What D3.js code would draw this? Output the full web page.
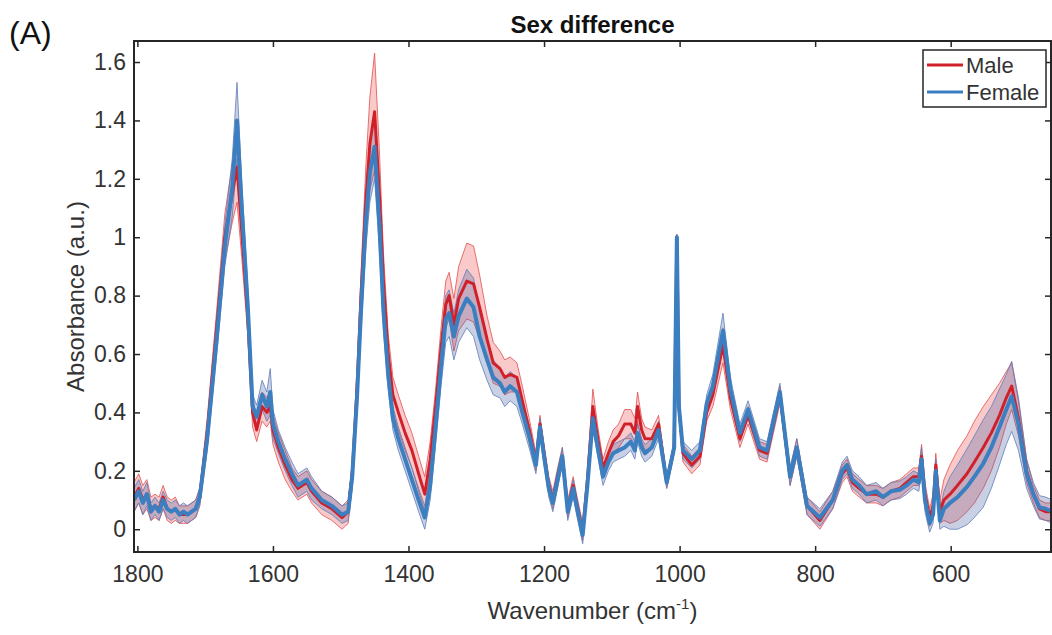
<!DOCTYPE html>
<html>
<head>
<meta charset="utf-8">
<script src="https://cdn.jsdelivr.net/npm/d3@7"></script>
<style>
  body { margin: 0; background: #fff; }
  svg { font-family: "Liberation Sans", Arial, Helvetica, sans-serif; }
</style>
</head>
<body>
<script>
// spectra (wavenumber in cm-1, absorbance a.u.)
const wavenumber = [
  1805, 1798, 1792, 1786, 1780, 1774, 1768, 1762, 1756, 1750,
  1744, 1738, 1732, 1726, 1720, 1714, 1708, 1697, 1683, 1671,
  1660, 1653, 1646, 1637, 1630, 1624, 1616, 1609, 1604, 1600,
  1592, 1582, 1572, 1563, 1550, 1543, 1528, 1513, 1498, 1489,
  1483, 1476, 1470, 1463, 1457, 1450, 1443, 1437, 1430, 1423,
  1415, 1405, 1395, 1385, 1376, 1368, 1360, 1352, 1345, 1340,
  1333, 1326, 1314, 1304, 1295, 1284, 1275, 1265, 1258, 1250,
  1240, 1232, 1221, 1212, 1206, 1200, 1193, 1187, 1180, 1173,
  1165, 1157, 1152, 1143, 1136, 1128, 1120, 1113, 1105, 1098,
  1090, 1081, 1072, 1066, 1062, 1056, 1051, 1041, 1031, 1019,
  1008, 1004, 1001, 995, 982, 970, 960, 951, 936, 925,
  911, 899, 882, 871, 852, 837, 827, 812, 793, 774,
  760, 753, 745, 735, 724, 710, 700, 688, 675, 665,
  655, 647, 643, 638, 631, 626, 622, 616, 610, 601,
  590, 576, 565, 552, 540, 528, 518, 510, 500, 488,
  478, 469, 460, 450
];

const femaleMean = [
  .10, .13, .09, .12, .06, .08, .06, .10, .07, .06,
  .07, .05, .06, .05, .06, .07, .11, .31, .65, .97,
  1.17, 1.40, 1.10, .76, .42, .385, .46, .42, .47, .36,
  .30, .24, .19, .15, .17, .14, .10, .08, .05, .06,
  .18, .45, .75, 1.05, 1.22, 1.31, 1.05, .75, .53, .38,
  .31, .24, .17, .10, .04, .15, .35, .56, .72, .74,
  .66, .73, .79, .76, .66, .58, .52, .50, .47, .49,
  .47, .40, .31, .22, .35, .25, .14, .09, .17, .25,
  .06, .14, .08, -.02, .15, .38, .27, .18, .23, .26,
  .27, .28, .30, .27, .33, .28, .26, .28, .34, .16,
  .28, 1.00, .42, .27, .24, .27, .43, .49, .68, .48,
  .33, .41, .28, .27, .47, .18, .28, .08, .04, .10,
  .20, .22, .17, .15, .12, .13, .11, .13, .135, .15,
  .17, .16, .24, .10, .02, .05, .20, .03, .07, .09,
  .11, .145, .18, .225, .28, .35, .41, .455, .36, .19,
  .12, .075, .07, .06
];

const maleMean = [
  .11, .14, .10, .12, .07, .08, .07, .11, .07, .06,
  .07, .05, .05, .05, .06, .07, .11, .33, .69, 1.00,
  1.15, 1.24, 1.02, .72, .40, .34, .42, .40, .42, .34,
  .28, .22, .17, .14, .16, .13, .09, .07, .04, .06,
  .19, .48, .80, 1.12, 1.32, 1.43, 1.15, .85, .60, .46,
  .40, .33, .27, .19, .12, .24, .42, .62, .77, .80,
  .70, .79, .85, .84, .76, .65, .57, .55, .52, .53,
  .52, .44, .33, .23, .36, .26, .15, .10, .18, .25,
  .07, .15, .09, -.01, .17, .42, .30, .21, .26, .30,
  .32, .36, .36, .33, .42, .34, .31, .31, .36, .16,
  .28, 1.00, .42, .26, .22, .25, .40, .46, .63, .45,
  .31, .39, .27, .26, .46, .18, .28, .08, .03, .10,
  .19, .21, .16, .14, .12, .12, .11, .13, .14, .16,
  .18, .18, .25, .12, .04, .08, .22, .06, .10, .12,
  .15, .19, .23, .28, .33, .39, .45, .49, .38, .20,
  .12, .07, .06, .06
];

const femaleSd = [
  .04, .04, .04, .04, .03, .03, .03, .03, .03, .03,
  .03, .03, .03, .03, .03, .03, .03, .04, .05, .07,
  .10, .13, .09, .06, .04, .04, .05, .05, .08, .05,
  .04, .04, .04, .04, .04, .04, .03, .03, .03, .03,
  .04, .05, .07, .09, .10, .11, .09, .07, .05, .04,
  .04, .04, .04, .04, .04, .05, .06, .07, .08, .08,
  .08, .09, .10, .10, .08, .07, .06, .05, .05, .05,
  .05, .04, .04, .03, .03, .03, .03, .03, .03, .03,
  .03, .03, .03, .03, .03, .04, .03, .03, .03, .03,
  .03, .03, .03, .03, .03, .03, .03, .03, .03, .02,
  .02, .01, .03, .03, .03, .03, .03, .04, .06, .04,
  .03, .03, .03, .03, .03, .03, .03, .03, .03, .03,
  .03, .03, .03, .03, .03, .03, .03, .03, .03, .03,
  .03, .03, .04, .04, .03, .03, .04, .03, .06, .09,
  .11, .13, .14, .15, .14, .13, .12, .12, .09, .05,
  .04, .04, .04, .04
];

const maleSd = [
  .05, .05, .05, .05, .04, .04, .04, .04, .04, .04,
  .04, .03, .03, .03, .03, .03, .03, .05, .06, .08,
  .10, .12, .09, .06, .05, .04, .05, .05, .05, .05,
  .05, .05, .04, .04, .04, .04, .04, .04, .04, .04,
  .04, .06, .08, .12, .16, .20, .15, .10, .07, .06,
  .06, .06, .06, .06, .06, .06, .06, .07, .08, .08,
  .09, .11, .13, .13, .11, .08, .07, .06, .06, .06,
  .05, .05, .04, .03, .03, .03, .03, .03, .03, .03,
  .03, .03, .03, .03, .03, .06, .04, .03, .04, .04,
  .04, .05, .05, .05, .05, .04, .04, .03, .03, .02,
  .02, .01, .03, .03, .03, .03, .03, .04, .06, .04,
  .03, .03, .03, .03, .03, .03, .03, .03, .03, .03,
  .03, .03, .03, .03, .03, .03, .03, .03, .03, .03,
  .03, .03, .04, .04, .03, .04, .04, .04, .07, .10,
  .12, .13, .14, .14, .13, .11, .09, .08, .06, .04,
  .03, .03, .03, .03
];

const xTicks = [1800, 1600, 1400, 1200, 1000, 800, 600];
const yTicks = [0, 0.2, 0.4, 0.6, 0.8, 1, 1.2, 1.4, 1.6];
const seriesNames = ["Male", "Female"];

const width = 1052;
const height = 635;
const margin = {left: 134, right: 1, top: 41, bottom: 83};
const chartWidth = width - margin.left - margin.right;
const chartHeight = height - margin.top - margin.bottom;

const svg = d3.select("body")
    .append("svg")
      .attr("width", width)
      .attr("height", height);

const g = svg.append("g")
    .attr("transform", "translate(" + margin.left + "," + margin.top + ")");

// scales (x is reversed, as usual for IR spectra)
const xScale = d3.scaleLinear()
    .domain([1805, 452])
    .range([0, chartWidth]);

const yScale = d3.scaleLinear()
    .domain([-0.078, 1.672])
    .range([chartHeight, 0]);

g.append("clipPath")
    .attr("id", "plot-clip")
  .append("rect")
    .attr("width", chartWidth)
    .attr("height", chartHeight);

const rows = wavenumber.map((w, i) => ({
  w: w,
  male: maleMean[i], maleSd: maleSd[i],
  female: femaleMean[i], femaleSd: femaleSd[i]
}));

const series = [
  {name: "Male", mean: "male", sd: "maleSd",
   fill: "rgba(238, 90, 90, 0.32)", edge: "rgba(225, 70, 70, 0.75)", line: "#d0212b", lw: 3},
  {name: "Female", mean: "female", sd: "femaleSd",
   fill: "rgba(80, 100, 165, 0.30)", edge: "rgba(95, 125, 185, 0.8)", line: "#3b7fc0", lw: 4}
];

const plot = g.append("g").attr("clip-path", "url(#plot-clip)");

// shaded bands (mean +/- sd) with thin edges
series.forEach(s => {
  const area = d3.area()
      .x(d => xScale(d.w))
      .y0(d => yScale(d[s.mean] - d[s.sd]))
      .y1(d => yScale(d[s.mean] + d[s.sd]));
  plot.append("path")
      .datum(rows)
      .attr("d", area)
      .style("fill", s.fill)
      .style("stroke", "none");
  [-1, 1].forEach(sign => {
    plot.append("path")
        .datum(rows)
        .attr("d", d3.line()
            .x(d => xScale(d.w))
            .y(d => yScale(d[s.mean] + sign * d[s.sd])))
        .style("fill", "none")
        .style("stroke", s.edge)
        .style("stroke-width", 1);
  });
});

// mean lines
series.forEach(s => {
  plot.append("path")
      .datum(rows)
      .attr("d", d3.line()
          .x(d => xScale(d.w))
          .y(d => yScale(d[s.mean])))
      .style("fill", "none")
      .style("stroke", s.line)
      .style("stroke-width", s.lw)
      .style("stroke-linejoin", "round");
});

const axisColor = "#262626";
const tickLen = 6;

// Add X axis
const xAxis = g.append("g")
    .attr("transform", "translate(0," + chartHeight + ")")
    .call(d3.axisBottom(xScale).tickValues(xTicks)
        .tickSizeInner(-tickLen).tickSizeOuter(0).tickPadding(14)
        .tickFormat(d3.format("d")));
// top ticks
const xTop = g.append("g")
    .call(d3.axisTop(xScale).tickValues(xTicks)
        .tickSizeInner(-tickLen).tickSizeOuter(0).tickFormat(""));

// Add Y axis
const yAxis = g.append("g")
    .call(d3.axisLeft(yScale).tickValues(yTicks)
        .tickSizeInner(-tickLen).tickSizeOuter(0).tickPadding(8)
        .tickFormat(d3.format("~g")));
const yRight = g.append("g")
    .attr("transform", "translate(" + chartWidth + ",0)")
    .call(d3.axisRight(yScale).tickValues(yTicks)
        .tickSizeInner(-tickLen).tickSizeOuter(0).tickFormat(""));

[xAxis, xTop, yAxis, yRight].forEach(a => {
  a.select(".domain").remove();
  a.selectAll("line").style("stroke", axisColor).style("stroke-width", 1.5);
  a.selectAll("text")
      .style("font-size", "23px")
      .style("fill", "#333")
      .style("font-family", "'Liberation Sans', Arial, sans-serif");
});

// box
g.append("rect")
    .attr("width", chartWidth)
    .attr("height", chartHeight)
    .style("fill", "none")
    .style("stroke", axisColor)
    .style("stroke-width", 2);

// title and labels
svg.append("text")
    .attr("x", margin.left + chartWidth / 2)
    .attr("y", 33)
    .attr("text-anchor", "middle")
    .style("font-size", "24px")
    .style("font-weight", "bold")
    .style("fill", "#111")
    .text("Sex difference");

svg.append("text")
    .attr("x", 9)
    .attr("y", 44)
    .style("font-size", "32px")
    .style("fill", "#111")
    .text("(A)");

svg.append("text")
    .attr("transform", "translate(84," + (margin.top + chartHeight / 2) + ") rotate(-90)")
    .attr("text-anchor", "middle")
    .style("font-size", "24px")
    .style("fill", "#333")
    .text("Absorbance (a.u.)");

const xLabel = svg.append("text")
    .attr("x", margin.left + chartWidth / 2)
    .attr("y", 619)
    .attr("text-anchor", "middle")
    .style("font-size", "24px")
    .style("fill", "#333");
xLabel.append("tspan").text("Wavenumber (cm");
xLabel.append("tspan").attr("dy", -10).style("font-size", "15px").text("-1");
xLabel.append("tspan").attr("dy", 10).text(")");

// legend
const legend = svg.append("g").attr("transform", "translate(923,50)");
legend.append("rect")
    .attr("width", 123)
    .attr("height", 57)
    .style("fill", "#fff")
    .style("stroke", axisColor)
    .style("stroke-width", 1.5);
seriesNames.forEach((name, i) => {
  const s = series.find(d => d.name === name);
  const yy = 15 + i * 27;
  legend.append("line")
      .attr("x1", 4).attr("x2", 40)
      .attr("y1", yy).attr("y2", yy)
      .style("stroke", s.line)
      .style("stroke-width", 3);
  legend.append("text")
      .attr("x", 43)
      .attr("y", yy + 8)
      .style("font-size", "22px")
      .style("fill", "#333")
      .text(name);
});
</script>
</body>
</html>
